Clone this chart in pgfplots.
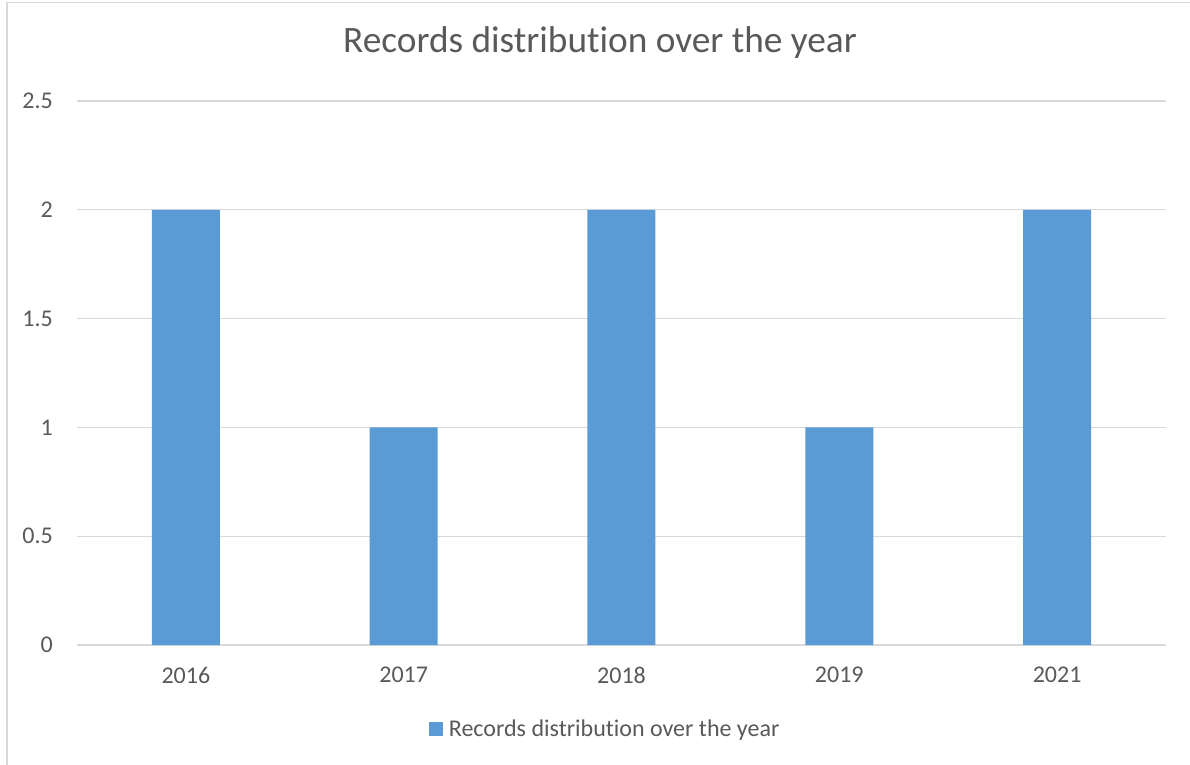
\documentclass[border=0pt]{standalone}
\usepackage{pgfplots}
\pgfplotsset{compat=1.18}
\usepackage{fontspec}
\setmainfont{Carlito}[RawFeature={-liga;-clig;-dlig}]
\definecolor{barblue}{HTML}{5B9BD5}
\definecolor{txtgray}{HTML}{595959}
\definecolor{gridgray}{HTML}{D9D9D9}
\begin{document}
\begin{tikzpicture}
\useasboundingbox (0,0) rectangle (1190bp,-765bp);
% chart frame
\begin{scope}
\clip (0,0) rectangle (1190bp,-765bp);
\draw[gridgray, line width=1.5bp] (7bp,-2.5bp) rectangle (1250bp,-800bp);
\end{scope}
\node[txtgray, font=\fontsize{37.3bp}{40bp}\selectfont, anchor=base, inner sep=0pt]
  at (600bp,-52bp) {Records distribution over the year};
\begin{axis}[
  at={(77bp,-645bp)}, anchor=south west,
  width=1089bp, height=544bp, scale only axis,
  ymin=0, ymax=2.5, ytick={0,0.5,1,1.5,2,2.5},
  xmin=-0.5, xmax=4.5, xtick=data,
  xticklabels={2016,2017,2018,2019,2021},
  ymajorgrids, grid style={gridgray, line width=1.3bp},
  axis x line*=bottom, axis y line*=left,
  x axis line style={gridgray, line width=1.3bp, -},
  y axis line style={draw=none, -},
  major tick length=0pt,
  tick style={draw=none},
  /pgf/number format/assume math mode=true,
  ticklabel style={font=\fontsize{24bp}{28bp}\selectfont, text=txtgray, inner sep=0pt},
  yticklabel style={xshift=-24bp},
  xticklabel style={yshift=-22bp},
  ybar, bar width=68bp,
  legend style={at={(0.485,-0.154)}, anchor=center, draw=none, fill=none,
    font=\fontsize{24bp}{28bp}\selectfont, text=txtgray},
  legend image code/.code={%
    \path (0bp,0bp) -- (18bp,0bp);
    \fill[barblue] (0bp,-7bp) rectangle (14bp,7bp);},
]
\addplot[fill=barblue, draw=none] coordinates {(0,2) (1,1) (2,2) (3,1) (4,2)};
\addlegendentry{Records distribution over the year}
\end{axis}
\end{tikzpicture}
\end{document}
